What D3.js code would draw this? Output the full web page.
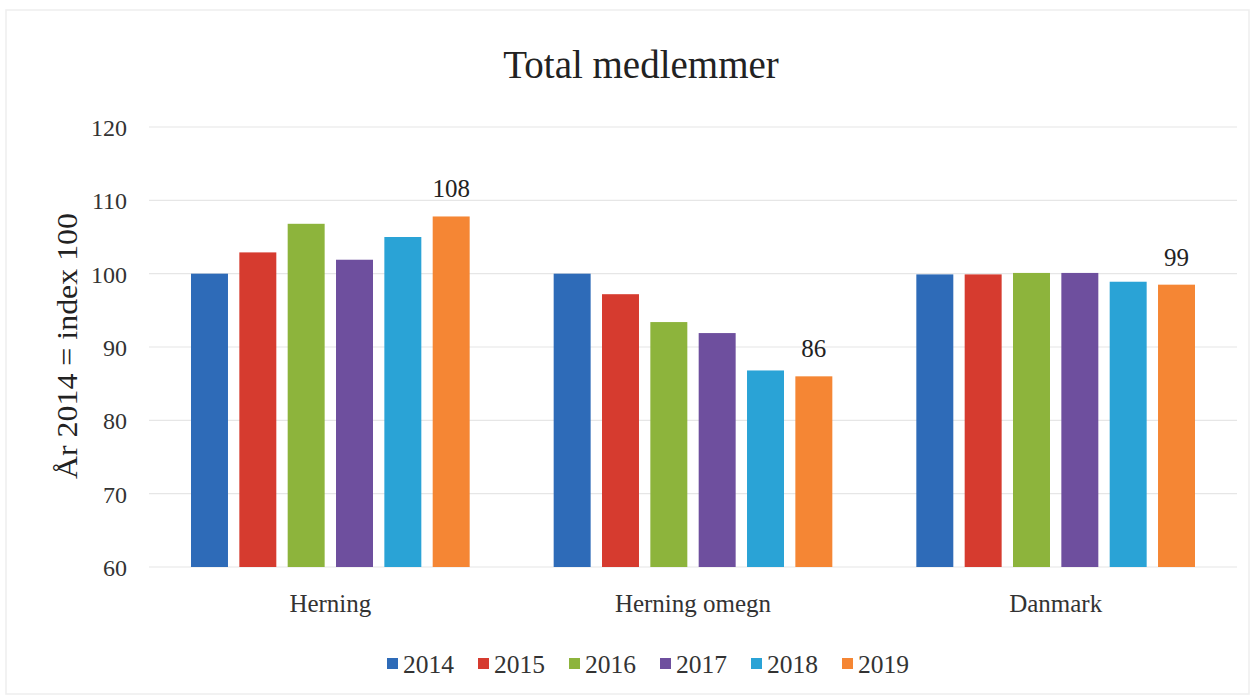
<!DOCTYPE html>
<html><head><meta charset="utf-8">
<script src="https://cdn.jsdelivr.net/npm/d3@7"></script>
<style>body{margin:0;background:#fff}svg{display:block}</style>
</head><body><svg id="c" width="1255" height="700"></svg>
<script>
const categories = ["Herning", "Herning omegn", "Danmark"];
const years = ["2014", "2015", "2016", "2017", "2018", "2019"];
const v2014 = [100, 100, 99.9];
const v2015 = [102.9, 97.2, 99.9];
const v2016 = [106.8, 93.4, 100.1];
const v2017 = [101.9, 91.9, 100.1];
const v2018 = [105.0, 86.8, 98.9];
const v2019 = [107.8, 86.0, 98.5];
const seriesValues = [v2014, v2015, v2016, v2017, v2018, v2019];
const colors = ["#2e6bb8", "#d63b2f", "#8db43c", "#6e4f9e", "#2aa3d6", "#f58634"];
const yTicks = [60, 70, 80, 90, 100, 110, 120];
const labelSeries = 5;
const labelText = ["108", "86", "99"];

const svg = d3.select("#c");
const serif = "'Liberation Serif','Times New Roman',serif";
const L = 149, R = 1237, T = 127, B = 567;

svg.append("rect").attr("x", 6).attr("y", 10).attr("width", 1243).attr("height", 684)
  .attr("fill", "none").attr("stroke", "#eeeeee").attr("stroke-width", 1.5);

const x0 = d3.scaleBand().domain(categories).range([L, R]).padding(0);
const x1 = d3.scaleBand().domain(years).range([42, x0.bandwidth() - 42]).paddingInner(0.235);
const y = d3.scaleLinear().domain([60, 120]).range([B, T]);

// grid
svg.append("g").selectAll("line").data(yTicks).join("line")
  .attr("x1", L).attr("x2", R).attr("y1", d => y(d)).attr("y2", d => y(d))
  .attr("stroke", "#e6e6e6").attr("stroke-width", 1.2);

// y axis labels
const yAxis = d3.axisLeft(y).tickValues(yTicks).tickSize(0).tickPadding(0);
const ga = svg.append("g").attr("transform", `translate(127,0)`).call(yAxis);
ga.select(".domain").remove();
ga.selectAll("text").attr("font-family", serif).attr("font-size", 24).attr("fill", "#333").attr("dy", "0.35em");

// bars
const groups = svg.append("g").selectAll("g").data(categories).join("g")
  .attr("transform", d => `translate(${x0(d)},0)`);
groups.selectAll("rect").data((c, i) => years.map((yr, s) => ({yr, s, v: seriesValues[s][i]}))).join("rect")
  .attr("x", d => x1(d.yr)).attr("width", x1.bandwidth())
  .attr("y", d => y(d.v)).attr("height", d => y(60) - y(d.v))
  .attr("fill", d => colors[d.s]);

// data labels
svg.append("g").selectAll("text").data(categories).join("text")
  .attr("x", d => x0(d) + x1(years[labelSeries]) + x1.bandwidth() / 2)
  .attr("y", (d, i) => y(seriesValues[labelSeries][i]) - 19)
  .attr("text-anchor", "middle").attr("font-family", serif).attr("font-size", 25).attr("fill", "#222")
  .text((d, i) => labelText[i]);

// x axis labels
const xAxis = d3.axisBottom(x0).tickSize(0).tickPadding(0);
const gx = svg.append("g").attr("transform", `translate(0,612)`).call(xAxis);
gx.select(".domain").remove();
gx.selectAll("text").attr("font-family", serif).attr("font-size", 25).attr("fill", "#333").attr("dy", "0");

// title
svg.append("text").attr("x", 641).attr("y", 78).attr("text-anchor", "middle")
  .attr("font-family", serif).attr("font-size", 39).attr("fill", "#222").text("Total medlemmer");

// y title
svg.append("text").attr("transform", "translate(77,346) rotate(-90)").attr("text-anchor", "middle")
  .attr("font-family", serif).attr("font-size", 30).attr("fill", "#222")
  .attr("textLength", 266).attr("lengthAdjust", "spacingAndGlyphs")
  .text("År 2014 = index 100");

// legend
const lg = svg.append("g").selectAll("g").data(years).join("g")
  .attr("transform", (d, i) => `translate(${387 + i * 91},664)`);
lg.append("rect").attr("x", 0).attr("y", -6).attr("width", 11).attr("height", 11).attr("fill", (d, i) => colors[i]);
lg.append("text").attr("x", 16).attr("y", 9).attr("font-family", serif)
  .attr("font-size", 25.5).attr("fill", "#333").text(d => d);
</script></body></html>
